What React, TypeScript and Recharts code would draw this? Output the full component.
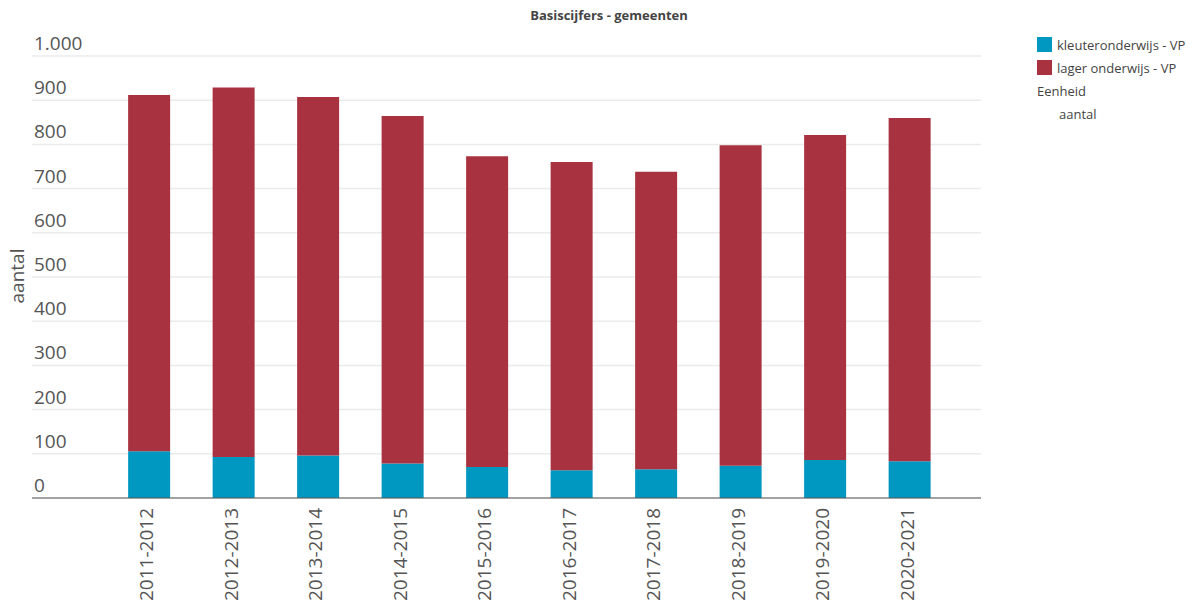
import { Bar, BarChart, CartesianGrid, Legend, XAxis, YAxis } from "recharts";
import { type JSX } from "react";

const years = [
  "2011-2012",
  "2012-2013",
  "2013-2014",
  "2014-2015",
  "2015-2016",
  "2016-2017",
  "2017-2018",
  "2018-2019",
  "2019-2020",
  "2020-2021",
];
const kleuter = [106, 93, 96, 78, 70, 63, 65, 73, 86, 83];
const lager = [806, 836, 811, 786, 703, 697, 673, 725, 735, 777];
const yTicks = [0, 100, 200, 300, 400, 500, 600, 700, 800, 900, 1000];

const FONT = "'Open Sans', sans-serif";
const BLUE = "#0097c1";
const RED = "#a83240";

const data = years.map((year, i) => ({
  year,
  kleuter: kleuter[i],
  lager: lager[i],
}));

const formatNl = (v: number) => v.toLocaleString("nl-BE");

const YTick = ({ y, payload }: any) => (
  <text x={34} y={y - 6} fill="#555" fontSize={19} fontFamily={FONT}>
    {formatNl(payload.value)}
  </text>
);

const XTick = ({ x, y, payload }: any) => (
  <text
    transform={`translate(${x - 3},${y + 2}) rotate(-90)`}
    textAnchor="end"
    dominantBaseline="central"
    fill="#555"
    fontSize={19}
    fontFamily={FONT}
  >
    {payload.value}
  </text>
);

const renderLegend = ({ payload }: any) => (
  <div style={{ fontFamily: FONT, fontSize: 13, color: "#444" }}>
    {(payload ?? []).map((p: any) => (
      <div
        key={p.value}
        style={{ display: "flex", alignItems: "center", height: 23 }}
      >
        <span
          style={{
            width: 15,
            height: 15,
            background: p.color,
            marginRight: 5,
            display: "inline-block",
          }}
        />
        {p.value}
      </div>
    ))}
    <div style={{ height: 24, lineHeight: "24px" }}>Eenheid</div>
    <div style={{ height: 23, lineHeight: "23px", paddingLeft: 22 }}>aantal</div>
  </div>
);

const App = (): JSX.Element => {
  return (
    <div style={{ position: "absolute", left: 0, top: 0 }}>
      <BarChart
        width={1196}
        height={606}
        data={data}
        margin={{ top: 56, right: 215, left: 0, bottom: 8 }}
        barCategoryGap="25%"
      >
        <text
          x={609}
          y={15}
          textAnchor="middle"
          dominantBaseline="central"
          fontFamily={FONT}
          fontSize={13}
          fontWeight="bold"
          fill="#444"
        >
          Basiscijfers - gemeenten
        </text>
        <CartesianGrid vertical={false} stroke="#ebebeb" strokeWidth={1.5} />
        <XAxis
          dataKey="year"
          height={100}
          padding={{ left: 75, right: 29 }}
          tickLine={false}
          axisLine={{ stroke: "#555" }}
          tick={<XTick />}
          interval={0}
        />
        <YAxis
          width={32}
          domain={[0, 1000]}
          ticks={yTicks}
          axisLine={false}
          tickLine={false}
          tick={<YTick />}
          label={() => (
            <text
              x={17}
              y={276}
              transform="rotate(-90 17 276)"
              textAnchor="middle"
              dominantBaseline="central"
              fontFamily={FONT}
              fontSize={19}
              fill="#555"
            >
              aantal
            </text>
          )}
        />
        <Legend
          layout="vertical"
          align="center"
          verticalAlign="middle"
          content={renderLegend}
          wrapperStyle={{ position: "absolute", left: 1037, top: 33, width: 160 }}
        />
        <Bar
          dataKey="kleuter"
          name="kleuteronderwijs - VP"
          stackId="a"
          fill={BLUE}
          isAnimationActive={false}
        />
        <Bar
          dataKey="lager"
          name="lager onderwijs - VP"
          stackId="a"
          fill={RED}
          isAnimationActive={false}
        />
      </BarChart>
    </div>
  );
};

export default App;
